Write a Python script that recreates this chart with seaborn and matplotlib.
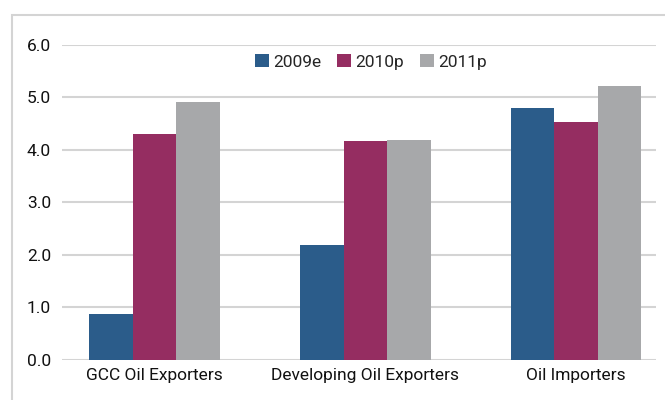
import matplotlib
matplotlib.use('Agg')
import matplotlib.pyplot as plt
import matplotlib.patches as mpatches
import pandas as pd
import seaborn as sns

# Data
regions = ['GCC Oil Exporters', 'Developing Oil Exporters', 'Oil Importers']
years = ['2009e', '2010p', '2011p']
v2009e = [0.87, 2.19, 4.80]
v2010p = [4.30, 4.17, 4.53]
v2011p = [4.91, 4.19, 5.22]
yticks = [0.0, 1.0, 2.0, 3.0, 4.0, 5.0, 6.0]
colors = ['#2B5C8A', '#952D61', '#A7A8AA']

df = pd.DataFrame({
    'region': regions * 3,
    'year': [years[0]] * 3 + [years[1]] * 3 + [years[2]] * 3,
    'value': v2009e + v2010p + v2011p,
})

sns.set_style('white')
plt.rcParams['font.family'] = ['Roboto', 'DejaVu Sans']

fig = plt.figure(figsize=(6.65, 4.0), dpi=100)
ax = fig.add_axes([62 / 665, 40.5 / 400, 594 / 665, 314.5 / 400])

# light border around the chart
fig.patches.append(mpatches.Rectangle((12 / 665, -0.1), 1.2, 1.1 - 15 / 400,
                                      transform=fig.transFigure, fill=False,
                                      edgecolor='#D4D4D4', linewidth=1.5, zorder=0))

sns.barplot(data=df, x='region', y='value', hue='year', palette=colors,
            width=0.62, gap=0, saturation=1, ax=ax, zorder=3, linewidth=0)

ax.set_ylim(0, 6)
ax.set_xlim(-0.44, 2.38)
ax.set_yticks(yticks)
ax.set_yticklabels([f'{t:.1f}' for t in yticks])
ax.grid(axis='y', color='#D4D4D4', linewidth=1.5, zorder=0)
ax.grid(axis='x', visible=False)
for s in ax.spines.values():
    s.set_visible(False)
ax.tick_params(axis='both', length=0, labelsize=12.5, colors='#111111')
ax.tick_params(axis='y', pad=8)
ax.tick_params(axis='x', pad=6)
ax.set_xlabel('')
ax.set_ylabel('')

ax.legend(loc='center', bbox_to_anchor=(0.52, 0.946), ncol=3, frameon=False,
          fontsize=12.5, handlelength=0.8, handleheight=0.8, handletextpad=0.25,
          columnspacing=0.9, borderpad=0)

fig.savefig('out.png', dpi=100)
